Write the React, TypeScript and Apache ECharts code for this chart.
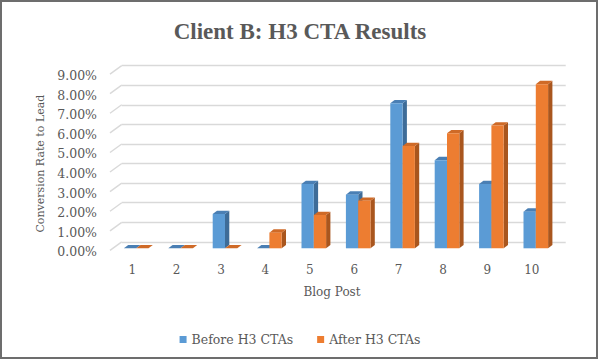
import React, { useEffect, useRef } from "react";
import * as echarts from "echarts";

const categories = ["1", "2", "3", "4", "5", "6", "7", "8", "9", "10"];
const beforeValues = [0, 0, 1.75, 0, 3.28, 2.74, 7.4, 4.5, 3.28, 1.87];
const afterValues = [0, 0, 0, 0.8, 1.7, 2.43, 5.22, 5.87, 6.27, 8.38];
const yTicks = [0, 1, 2, 3, 4, 5, 6, 7, 8, 9];
const seriesNames = ["Before H3 CTAs", "After H3 CTAs"];

const TEXT = "#595959";
const GRID = "#d9d9d9";
const FONT = "DejaVu Serif";

const faces = [
  { front: "#5b9bd5", top: "#4a7fb4", side: "#3e6c98" },
  { front: "#ed7d31", top: "#cf6a27", side: "#a9561e" },
];

const DX = 4.3;
const DY = -3.3;

function barRenderer(si: number) {
  return (params: any, api: any) => {
    const idx = api.value(0);
    const v = api.value(1);
    const top = api.coord([idx, v]);
    const base = api.coord([idx, 0]);
    const band = api.size([1, 0])[0];
    const bw = band * 0.277;
    const x0 = top[0] - bw + si * bw;
    const x1 = x0 + bw;
    const yt = top[1];
    const yb = base[1];
    const f = faces[si];
    return {
      type: "group",
      children: [
        {
          type: "polygon",
          shape: { points: [[x1, yt], [x1 + DX, yt + DY], [x1 + DX, yb + DY], [x1, yb]] },
          style: { fill: f.side },
        },
        {
          type: "polygon",
          shape: { points: [[x0, yt], [x1, yt], [x1 + DX, yt + DY], [x0 + DX, yt + DY]] },
          style: { fill: f.top },
        },
        {
          type: "rect",
          shape: { x: x0, y: yt, width: bw, height: Math.max(0, yb - yt) },
          style: { fill: f.front },
        },
      ],
    };
  };
}

export default function App() {
  const ref = useRef<HTMLDivElement>(null);
  useEffect(() => {
    if (!ref.current) return;
    const chart = echarts.init(ref.current, null, { renderer: "svg" });
    const W = 444;
    const H = 176.3;
    chart.setOption({
      animation: false,
      backgroundColor: "#ffffff",
      title: {
        text: "Client B: H3 CTA Results",
        left: "center",
        top: 15,
        textStyle: { fontFamily: "Liberation Serif", fontSize: 23, fontWeight: "bold", color: TEXT },
      },
      legend: {
        data: seriesNames.map((n, i) => ({ name: n, itemStyle: { color: faces[i].front } })),
        left: "center",
        top: 328,
        icon: "rect",
        itemWidth: 7,
        itemHeight: 7,
        itemGap: 24,
        textStyle: { fontFamily: FONT, fontSize: 12.5, color: TEXT },
      },
      grid: [
        { left: 121.7, top: 65.6, width: W, height: H },
        { left: 110, top: 75.5, width: W, height: H },
        { left: 114, top: 72, width: W, height: H },
      ],
      xAxis: [
        { type: "category", gridIndex: 0, data: categories, show: false },
        {
          type: "category",
          gridIndex: 1,
          data: categories,
          axisLine: { show: false },
          axisTick: { show: false },
          axisLabel: { margin: 12, fontFamily: FONT, fontSize: 12, color: TEXT },
          name: "Blog Post",
          nameLocation: "middle",
          nameGap: 34,
          nameTextStyle: { fontFamily: FONT, fontSize: 12, color: TEXT },
        },
        { type: "category", gridIndex: 2, data: categories, show: false },
      ],
      yAxis: [
        {
          type: "value",
          gridIndex: 0,
          min: 0,
          max: 9,
          interval: 1,
          axisLine: { show: false },
          axisTick: { show: false },
          axisLabel: { show: false },
          splitLine: { lineStyle: { color: GRID, width: 1.4 } },
        },
        {
          type: "value",
          gridIndex: 1,
          min: 0,
          max: 9,
          interval: 1,
          axisLine: { show: false },
          axisTick: { show: false },
          splitLine: { show: false },
          axisLabel: {
            margin: 13,
            fontFamily: FONT,
            fontSize: 12.5,
            color: TEXT,
            formatter: (v: number) => v.toFixed(2) + "%",
          },
          name: "Conversion Rate to Lead",
          nameLocation: "middle",
          nameGap: 60,
          nameTextStyle: { fontFamily: FONT, fontSize: 11, color: TEXT },
        },
        {
          type: "value",
          gridIndex: 2,
          min: 0,
          max: 9,
          interval: 1,
          show: false,
        },
      ],
      series: [
        {
          type: "custom",
          xAxisIndex: 0,
          yAxisIndex: 0,
          silent: true,
          z: 1,
          data: yTicks.map((t) => [0, t]),
          renderItem: (params: any, api: any) => {
            const y = api.coord([0, api.value(1)])[1];
            const x = params.coordSys.x;
            return {
              type: "line",
              shape: { x1: x - 11.7, y1: y + 8.5, x2: x, y2: y },
              style: { stroke: GRID, lineWidth: 1.4 },
            };
          },
        },
        ...[beforeValues, afterValues].map((vals, si) => ({
          type: "custom",
          name: seriesNames[si],
          xAxisIndex: 2,
          yAxisIndex: 2,
          z: 2 + si,
          itemStyle: { color: faces[si].front },
          data: vals.map((v, i) => [i, v]),
          renderItem: barRenderer(si),
        })),
      ],
      graphic: [
        {
          type: "rect",
          shape: { x: 1, y: 1, width: 596, height: 357 },
          style: { fill: "none", stroke: "#6d6d6d", lineWidth: 2 },
          z: 100,
        },
      ],
    });
    return () => chart.dispose();
  }, []);
  return <div ref={ref} style={{ position: "absolute", left: 0, top: 0, width: 600, height: 360 }} />;
}
